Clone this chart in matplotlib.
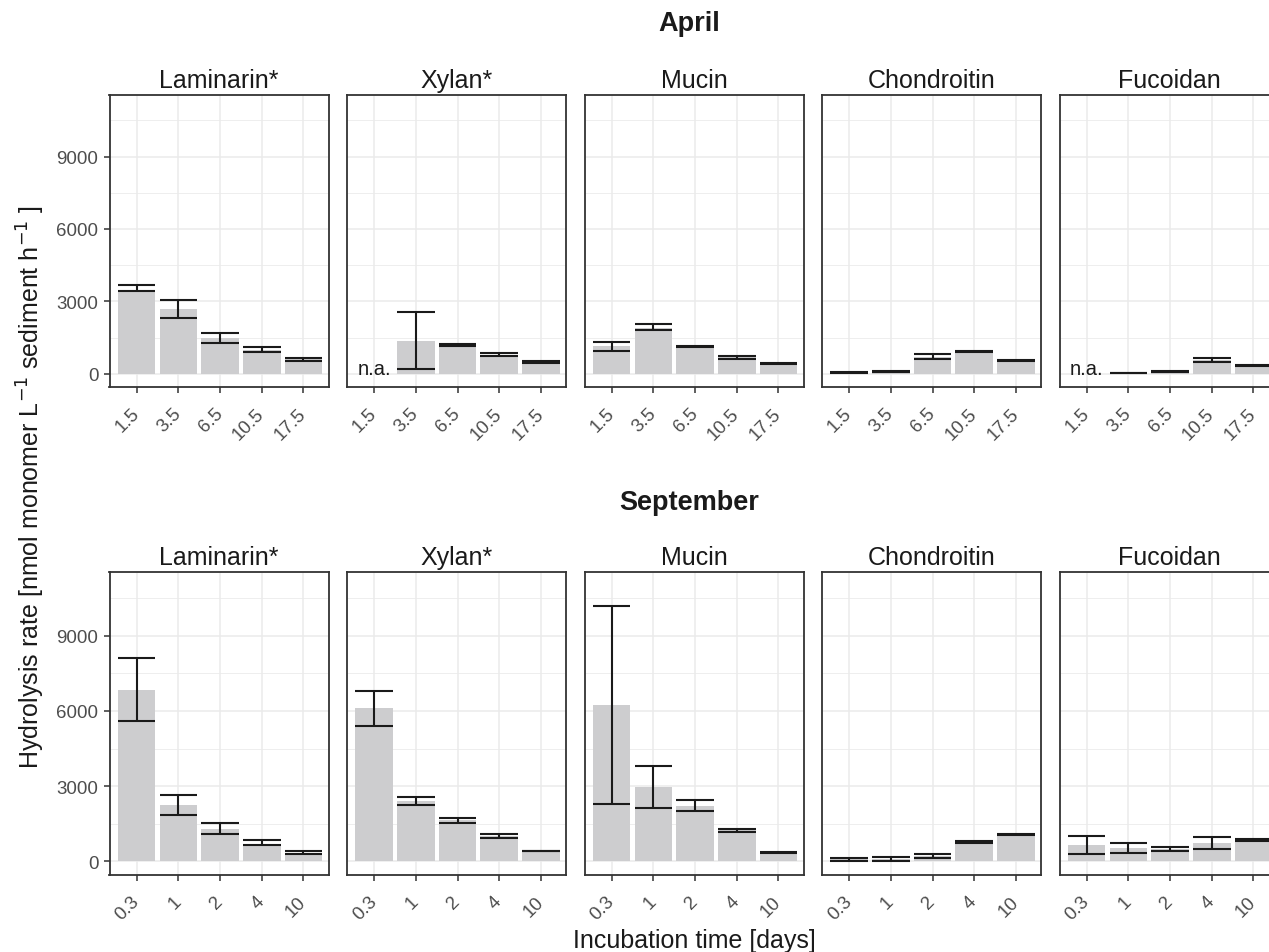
import numpy as np
import matplotlib
matplotlib.use("Agg")
import matplotlib.pyplot as plt
from matplotlib.ticker import MultipleLocator

plt.rcParams['font.family'] = ['Liberation Sans', 'DejaVu Sans']

substrates = ["Laminarin*", "Xylan*", "Mucin", "Chondroitin", "Fucoidan"]
april_times = ["1.5", "3.5", "6.5", "10.5", "17.5"]
sept_times = ["0.3", "1", "2", "4", "10"]
nan = np.nan

# April: bar value, lower and upper end of error bar (nan = not analysed)
april_mean = [
    [3450, 2680, 1480, 970, 590],
    [nan, 1360, 1180, 790, 490],
    [1150, 1900, 1130, 680, 410],
    [50, 90, 700, 910, 550],
    [nan, 20, 80, 560, 340],
]
april_lo = [
    [3420, 2310, 1290, 880, 510],
    [nan, 180, 1130, 715, 455],
    [950, 1800, 1100, 620, 390],
    [35, 75, 605, 890, 530],
    [nan, 10, 65, 480, 320],
]
april_hi = [
    [3690, 3050, 1690, 1100, 670],
    [nan, 2550, 1240, 865, 535],
    [1320, 2040, 1155, 730, 430],
    [65, 105, 800, 930, 570],
    [nan, 30, 95, 635, 365],
]

# September
sept_mean = [
    [6830, 2250, 1270, 700, 340],
    [6100, 2420, 1630, 1000, 410],
    [6220, 2970, 2210, 1230, 340],
    [80, 90, 200, 770, 1050],
    [640, 510, 480, 720, 860],
]
sept_lo = [
    [5580, 1860, 1100, 660, 280],
    [5400, 2260, 1530, 910, 400],
    [2280, 2120, 2010, 1150, 310],
    [20, 10, 135, 730, 1030],
    [280, 335, 390, 470, 820],
]
sept_hi = [
    [8120, 2650, 1510, 840, 400],
    [6800, 2550, 1740, 1100, 425],
    [10200, 3810, 2460, 1300, 370],
    [135, 160, 270, 800, 1070],
    [1015, 710, 575, 950, 880],
]

W, H = 1269, 953
fig = plt.figure(figsize=(W / 100, H / 100), dpi=100)

dark = "#333333"
txt = "#1a1a1a"
bar_col = "#cdcdcf"
grid_col = "#ebebeb"


def panel(left, top, bottom, title, labels, mean, lo, hi, first):
    ax = fig.add_axes([left / W, 1 - bottom / H, 219 / W, (bottom - top) / H])
    x = np.arange(len(labels))
    m = np.array(mean, dtype=float)
    ax.bar(x, np.nan_to_num(m), width=0.9, color=bar_col, zorder=2)
    ok = ~np.isnan(m)
    lo = np.array(lo)[ok]
    hi = np.array(hi)[ok]
    ax.vlines(x[ok], lo, hi, color=txt, lw=1.5, zorder=3)
    ax.hlines(lo, x[ok] - 0.45, x[ok] + 0.45, color=txt, lw=1.5, zorder=3)
    ax.hlines(hi, x[ok] - 0.45, x[ok] + 0.45, color=txt, lw=1.5, zorder=3)
    for xi in x[~ok]:
        ax.text(xi, 230, "n.a.", ha="center", va="center", fontsize=14.5, color=txt, zorder=4)
    ax.set_xlim(-0.65, 4.6)
    ax.set_ylim(-550, 11550)
    ax.yaxis.set_major_locator(MultipleLocator(3000))
    ax.yaxis.set_minor_locator(MultipleLocator(1500))
    ax.set_xticks(x)
    ax.set_xticklabels(labels, rotation=45, ha="right", va="center",
                       rotation_mode="anchor", color="#4d4d4d", fontsize=13.5)
    ax.grid(True, which="major", color=grid_col, lw=1.1, zorder=0)
    ax.grid(True, which="minor", axis="y", color=grid_col, lw=0.6, zorder=0)
    ax.set_axisbelow(True)
    for s in ax.spines.values():
        s.set_color(dark)
        s.set_linewidth(1.3)
    ax.tick_params(axis="x", length=4, width=1.1, color=dark, pad=13)
    ax.tick_params(axis="y", which="minor", length=0)
    if first:
        ax.tick_params(axis="y", length=4, width=1.1, color=dark, labelcolor="#4d4d4d",
                       labelsize=13.5, pad=4)
    else:
        ax.tick_params(axis="y", length=0, labelleft=False)
    ax.set_title(title, fontsize=18, color=txt, pad=6)
    return ax


lefts = [109.5 + i * 237.5 for i in range(5)]
for i, s in enumerate(substrates):
    panel(lefts[i], 96, 388, s, april_times, april_mean[i], april_lo[i], april_hi[i], i == 0)
    panel(lefts[i], 573, 876, s, sept_times, sept_mean[i], sept_lo[i], sept_hi[i], i == 0)

fig.text(689 / W, 1 - 24 / H, "April", ha="center", va="center", fontsize=19.5,
         fontweight="bold", color=txt)
fig.text(689 / W, 1 - 503 / H, "September", ha="center", va="center", fontsize=19.5,
         fontweight="bold", color=txt)
fig.text(694 / W, 1 - 941 / H, "Incubation time [days]", ha="center", va="center",
         fontsize=18, color=txt)
fig.text(31 / W, 1 - 487 / H,
         r"Hydrolysis rate [nmol monomer L$^{-1}$ sediment h$^{-1}$ ]",
         ha="center", va="center", rotation=90, fontsize=18, color=txt)

fig.savefig("out.png", dpi=100)
